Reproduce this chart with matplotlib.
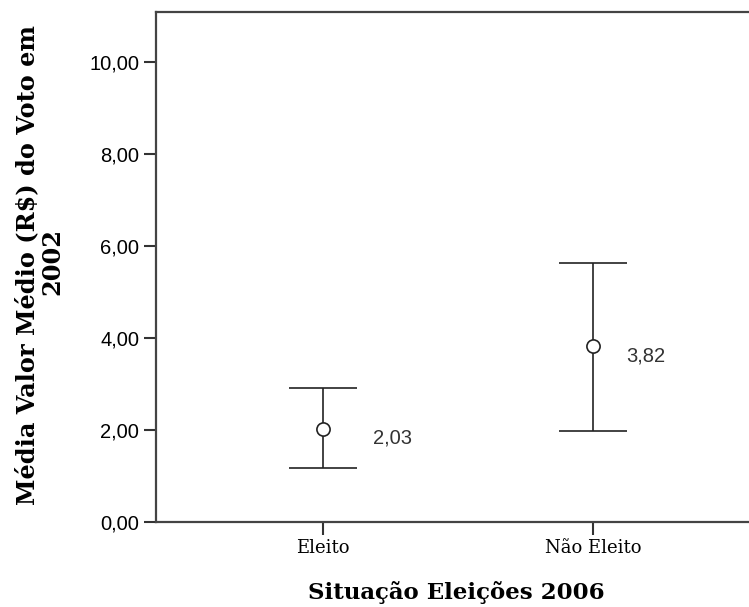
import numpy as np
import matplotlib.pyplot as plt

categories = ['Eleito', 'Não Eleito']
means = [2.03, 3.82]
lower = [1.17, 1.98]
upper = [2.91, 5.63]
mean_labels = ['2,03', '3,82']
yticks = [0, 2, 4, 6, 8, 10]
ytick_labels = ['0,00', '2,00', '4,00', '6,00', '8,00', '10,00']

W, H = 749, 607
fig = plt.figure(figsize=(W / 100, H / 100), dpi=100)
# axes runs a little past the right edge of the image, like the original
ax = fig.add_axes([156 / W, 1 - 522 / H, (760 - 156) / W, 510 / H])

x = np.arange(len(categories))
err = [np.array(means) - np.array(lower), np.array(upper) - np.array(means)]
ax.errorbar(x, means, yerr=err, fmt='o', color='#222222', mfc='white', mec='#222222',
            ms=9.5, mew=1.2, elinewidth=1.2, capsize=24.5, capthick=1.3, zorder=3)

label_dx = [36, 24]
for xi, m, lab, dx in zip(x, means, mean_labels, label_dx):
    ax.annotate(lab, (xi, m), xytext=(dx, -7), textcoords='offset points',
                ha='left', va='center', fontsize=14.5, family='Liberation Sans', color='#333333')

ax.set_xlim(-0.616, 1.616)
ax.set_ylim(0, 11.09)
ax.set_xticks(x)
ax.set_xticklabels(categories, family='DejaVu Serif', fontsize=13)
ax.set_yticks(yticks)
ax.set_yticklabels(ytick_labels, family='Liberation Sans', fontsize=14.5)
ax.tick_params(axis='both', length=9, width=1.5, color='#333333')
ax.tick_params(axis='y', pad=3)
ax.tick_params(axis='x', pad=3)
for s in ['left', 'top', 'bottom']:
    ax.spines[s].set_linewidth(1.6)
    ax.spines[s].set_color('#444444')
ax.spines['right'].set_visible(False)

ax.set_xlabel('Situação Eleições 2006', family='DejaVu Serif', fontweight='bold',
              fontsize=16.5)
ax.xaxis.set_label_coords((456 - 156) / (760 - 156), -(592 - 522) / 510)
ax.xaxis.label.set_va('center')

fig.text(27 / W, 1 - 265 / H, 'Média Valor Médio (R$) do Voto em', rotation=90,
         ha='center', va='center', family='DejaVu Serif', fontweight='bold', fontsize=17.3)
fig.text(52 / W, 1 - 262 / H, '2002', rotation=90,
         ha='center', va='center', family='DejaVu Serif', fontweight='bold', fontsize=17.3)

fig.savefig('out.png', dpi=100)
